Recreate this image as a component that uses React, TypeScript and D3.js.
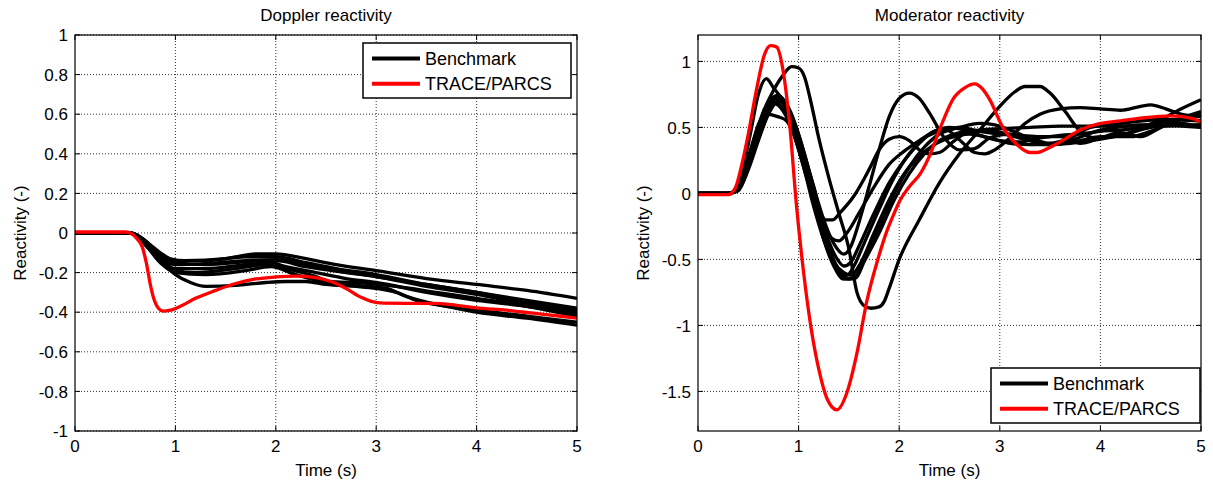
import React from "react";
import * as d3 from "d3";

type P = [number, number];

// ---------- Data ----------
const xTicks = [0, 1, 2, 3, 4, 5];
const dopplerYTicks = [-1, -0.8, -0.6, -0.4, -0.2, 0, 0.2, 0.4, 0.6, 0.8, 1];
const moderatorYTicks = [-1.5, -1, -0.5, 0, 0.5, 1];
const legendLabels = ["Benchmark", "TRACE/PARCS"];

const dopplerBench1: P[] = [[0,0],[0.55,0],[0.65,-0.02],[0.75,-0.06],[0.85,-0.1],[0.95,-0.13],[1.1,-0.14],[1.5,-0.13],[1.8,-0.105],[2.0,-0.105],[2.3,-0.13],[2.6,-0.16],[3.0,-0.19],[3.5,-0.23],[4.0,-0.26],[4.5,-0.29],[5.0,-0.33]];
const dopplerBench2: P[] = [[0,0],[0.55,0],[0.7,-0.04],[0.85,-0.11],[1.0,-0.14],[1.3,-0.14],[1.7,-0.12],[2.0,-0.12],[2.3,-0.15],[2.6,-0.18],[3.0,-0.21],[3.5,-0.26],[4.0,-0.3],[4.5,-0.35],[5.0,-0.39]];
const dopplerBench3: P[] = [[0,0],[0.55,0],[0.7,-0.05],[0.85,-0.13],[1.0,-0.16],[1.3,-0.155],[1.7,-0.14],[2.0,-0.135],[2.3,-0.16],[2.6,-0.19],[3.0,-0.22],[3.5,-0.27],[4.0,-0.31],[4.5,-0.36],[5.0,-0.4]];
const dopplerBench4: P[] = [[0,0],[0.55,0],[0.7,-0.06],[0.85,-0.14],[1.0,-0.18],[1.3,-0.18],[1.7,-0.16],[1.95,-0.15],[2.1,-0.17],[2.4,-0.2],[2.7,-0.23],[3.0,-0.25],[3.5,-0.3],[4.0,-0.34],[4.5,-0.37],[5.0,-0.41]];
const dopplerBench5: P[] = [[0,0],[0.55,0],[0.7,-0.06],[0.85,-0.15],[1.0,-0.2],[1.3,-0.21],[1.7,-0.19],[1.95,-0.17],[2.2,-0.21],[2.5,-0.245],[2.8,-0.25],[3.2,-0.27],[3.6,-0.3],[4.0,-0.33],[4.5,-0.37],[5.0,-0.42]];
const dopplerBench6: P[] = [[0,0],[0.55,0],[0.7,-0.05],[0.85,-0.14],[1.0,-0.21],[1.15,-0.25],[1.3,-0.27],[1.6,-0.265],[1.9,-0.25],[2.1,-0.245],[2.3,-0.245],[2.5,-0.26],[2.8,-0.27],[3.0,-0.28],[3.2,-0.3],[3.4,-0.34],[3.7,-0.37],[4.0,-0.4],[4.5,-0.43],[5.0,-0.465]];
const dopplerBench7: P[] = [[0,0],[0.55,0],[0.75,-0.07],[0.9,-0.15],[1.0,-0.19],[1.2,-0.2],[1.6,-0.18],[1.9,-0.16],[2.1,-0.18],[2.4,-0.22],[2.6,-0.26],[2.8,-0.265],[3.1,-0.28],[3.3,-0.32],[3.6,-0.36],[4.0,-0.39],[4.5,-0.42],[5.0,-0.45]];
const dopplerBench8: P[] = [[0,0],[0.55,0],[0.7,-0.05],[0.85,-0.12],[1.0,-0.15],[1.3,-0.16],[1.9,-0.14],[2.0,-0.14],[2.3,-0.17],[2.7,-0.2],[3.0,-0.22],[3.5,-0.26],[4.0,-0.3],[4.5,-0.34],[5.0,-0.38]];
const dopplerTrace: P[] = [[0,0.005],[0.5,0.005],[0.55,0],[0.62,-0.03],[0.67,-0.07],[0.71,-0.15],[0.75,-0.26],[0.79,-0.34],[0.83,-0.38],[0.88,-0.395],[0.95,-0.39],[1.05,-0.37],[1.2,-0.33],[1.4,-0.29],[1.6,-0.255],[1.8,-0.232],[2.0,-0.222],[2.2,-0.218],[2.4,-0.225],[2.55,-0.245],[2.7,-0.28],[2.85,-0.325],[2.95,-0.345],[3.07,-0.354],[3.3,-0.355],[3.57,-0.355],[3.8,-0.365],[4.0,-0.378],[4.3,-0.39],[4.56,-0.405],[4.8,-0.418],[5,-0.43]];

const modBench1: P[] = [[0,0],[0.3,0],[0.38,0.03],[0.45,0.15],[0.55,0.4],[0.65,0.62],[0.75,0.78],[0.85,0.9],[0.93,0.96],[1.0,0.95],[1.06,0.88],[1.12,0.7],[1.2,0.42],[1.3,0.12],[1.4,-0.15],[1.5,-0.42],[1.58,-0.75],[1.65,-0.85],[1.72,-0.87],[1.8,-0.86],[1.85,-0.82],[1.9,-0.72],[2.0,-0.5],[2.2,-0.2],[2.4,0.08],[2.6,0.3],[2.8,0.48],[3.0,0.66],[3.15,0.77],[3.25,0.81],[3.4,0.81],[3.5,0.76],[3.65,0.62],[3.8,0.47],[3.95,0.42],[4.2,0.44],[4.5,0.52],[4.8,0.56],[5,0.55]];
const modBench2: P[] = [[0,0],[0.3,0],[0.38,0.03],[0.45,0.2],[0.52,0.45],[0.6,0.75],[0.68,0.87],[0.75,0.8],[0.85,0.7],[0.95,0.55],[1.05,0.32],[1.15,0.05],[1.25,-0.2],[1.35,-0.38],[1.45,-0.46],[1.52,-0.4],[1.6,-0.22],[1.7,0.05],[1.8,0.33],[1.9,0.58],[2.0,0.72],[2.1,0.76],[2.2,0.72],[2.3,0.61],[2.45,0.42],[2.6,0.33],[2.75,0.34],[2.9,0.42],[3.1,0.45],[3.3,0.4],[3.5,0.37],[3.7,0.4],[4.0,0.48],[4.5,0.52],[5,0.5]];
const modBench3: P[] = [[0,0],[0.3,0],[0.4,0.04],[0.5,0.25],[0.6,0.5],[0.7,0.68],[0.78,0.74],[0.85,0.7],[0.95,0.55],[1.05,0.3],[1.15,0.05],[1.22,-0.15],[1.27,-0.2],[1.34,-0.2],[1.42,-0.14],[1.55,-0.02],[1.7,0.18],[1.8,0.33],[1.9,0.41],[2.0,0.43],[2.1,0.4],[2.2,0.33],[2.3,0.3],[2.4,0.31],[2.55,0.4],[2.7,0.47],[2.9,0.48],[3.1,0.44],[3.3,0.4],[3.5,0.37],[3.8,0.4],[4.0,0.43],[4.3,0.43],[4.5,0.47],[4.8,0.57],[5,0.62]];
const modBench4: P[] = [[0,0],[0.3,0],[0.4,0.03],[0.5,0.2],[0.6,0.45],[0.7,0.66],[0.76,0.72],[0.85,0.68],[0.95,0.5],[1.05,0.25],[1.15,-0.05],[1.25,-0.35],[1.35,-0.55],[1.45,-0.65],[1.55,-0.64],[1.65,-0.5],[1.8,-0.25],[1.95,0],[2.1,0.2],[2.25,0.35],[2.4,0.45],[2.6,0.5],[2.8,0.53],[2.95,0.52],[3.1,0.48],[3.3,0.42],[3.5,0.38],[3.7,0.42],[3.9,0.5],[4.2,0.53],[4.6,0.56],[5,0.55]];
const modBench5: P[] = [[0,0],[0.3,0],[0.4,0.03],[0.5,0.25],[0.6,0.52],[0.68,0.6],[0.8,0.58],[0.88,0.55],[0.95,0.45],[1.05,0.2],[1.15,-0.1],[1.25,-0.35],[1.35,-0.52],[1.45,-0.6],[1.52,-0.62],[1.6,-0.55],[1.75,-0.3],[1.9,-0.05],[2.05,0.15],[2.2,0.28],[2.35,0.37],[2.5,0.42],[2.7,0.45],[2.9,0.42],[3.1,0.38],[3.3,0.37],[3.5,0.37],[3.7,0.38],[3.9,0.4],[4.2,0.44],[4.5,0.5],[4.8,0.53],[5,0.5]];
const modBench6: P[] = [[0,0],[0.3,0],[0.4,0.02],[0.5,0.18],[0.6,0.4],[0.7,0.6],[0.8,0.7],[0.88,0.66],[0.97,0.5],[1.07,0.25],[1.17,-0.05],[1.27,-0.3],[1.37,-0.48],[1.45,-0.55],[1.52,-0.52],[1.6,-0.4],[1.75,-0.15],[1.9,0.08],[2.05,0.25],[2.2,0.38],[2.35,0.47],[2.45,0.49],[2.55,0.44],[2.65,0.37],[2.75,0.31],[2.85,0.3],[2.95,0.33],[3.1,0.42],[3.25,0.53],[3.4,0.6],[3.6,0.64],[3.8,0.65],[4.0,0.64],[4.2,0.63],[4.4,0.66],[4.5,0.67],[4.65,0.64],[4.8,0.6],[5,0.58]];
const modBench7: P[] = [[0,0],[0.3,0],[0.4,0.03],[0.5,0.22],[0.6,0.48],[0.7,0.68],[0.8,0.74],[0.9,0.65],[1.0,0.45],[1.1,0.18],[1.2,-0.12],[1.3,-0.4],[1.4,-0.58],[1.5,-0.65],[1.57,-0.64],[1.65,-0.52],[1.8,-0.3],[1.95,-0.05],[2.1,0.15],[2.25,0.3],[2.4,0.4],[2.6,0.46],[2.8,0.48],[3.0,0.49],[3.3,0.5],[3.6,0.51],[4.0,0.51],[4.5,0.51],[5,0.52]];
const modBench8: P[] = [[0,0],[0.3,0],[0.4,0.03],[0.5,0.2],[0.6,0.45],[0.7,0.64],[0.76,0.68],[0.85,0.62],[0.95,0.45],[1.05,0.2],[1.15,-0.05],[1.25,-0.25],[1.33,-0.34],[1.4,-0.36],[1.48,-0.3],[1.6,-0.15],[1.75,0.05],[1.9,0.22],[2.05,0.32],[2.2,0.4],[2.35,0.47],[2.5,0.5],[2.65,0.48],[2.8,0.44],[3.0,0.4],[3.2,0.39],[3.4,0.42],[3.6,0.44],[3.8,0.45],[4.0,0.47],[4.2,0.48],[4.4,0.5],[4.6,0.56],[4.8,0.64],[5,0.71]];
const modBench9: P[] = [[0,0],[0.3,0],[0.4,0.04],[0.5,0.25],[0.6,0.5],[0.72,0.7],[0.8,0.68],[0.9,0.58],[1.0,0.38],[1.1,0.1],[1.2,-0.2],[1.3,-0.45],[1.4,-0.6],[1.48,-0.62],[1.55,-0.55],[1.65,-0.38],[1.8,-0.12],[1.95,0.12],[2.1,0.3],[2.25,0.42],[2.4,0.47],[2.6,0.5],[2.8,0.47],[3.0,0.45],[3.2,0.44],[3.4,0.43],[3.6,0.43],[3.8,0.38],[4.0,0.42],[4.2,0.46],[4.4,0.43],[4.6,0.5],[4.8,0.56],[5,0.6]];
const modTrace: P[] = [[0,-0.01],[0.3,-0.01],[0.37,0.04],[0.43,0.2],[0.5,0.45],[0.58,0.78],[0.66,1.05],[0.72,1.12],[0.78,1.11],[0.85,0.91],[0.91,0.53],[0.98,-0.1],[1.05,-0.6],[1.12,-1.0],[1.2,-1.33],[1.28,-1.55],[1.38,-1.64],[1.48,-1.51],[1.58,-1.21],[1.68,-0.81],[1.78,-0.52],[1.88,-0.28],[1.95,-0.15],[2.01,-0.05],[2.1,0.05],[2.21,0.15],[2.31,0.3],[2.41,0.5],[2.54,0.72],[2.65,0.8],[2.75,0.83],[2.83,0.79],[2.9,0.71],[3.03,0.5],[3.17,0.37],[3.3,0.31],[3.37,0.31],[3.5,0.35],[3.6,0.39],[3.8,0.48],[4.0,0.53],[4.2,0.55],[4.4,0.57],[4.7,0.587],[4.9,0.57],[5,0.54]];

const dopplerBench = [dopplerBench1, dopplerBench2, dopplerBench3, dopplerBench4, dopplerBench5, dopplerBench6, dopplerBench7, dopplerBench8];
const modBench = [modBench1, modBench2, modBench3, modBench4, modBench5, modBench6, modBench7, modBench8, modBench9];

const FONT = "'Liberation Sans', Arial, Helvetica, sans-serif";
const FS = 17;
const LFS = 18;

interface PanelProps {
  id: string;
  left: number;
  right: number;
  top: number;
  bottom: number;
  yDomain: [number, number];
  yTicks: number[];
  title: string;
  bench: P[][];
  trace: P[];
  legend: { x0: number; x1: number; y0: number; y1: number };
  yLabelX: number;
}

function Panel(p: PanelProps) {
  const x = d3.scaleLinear().domain([0, 5]).range([p.left, p.right]);
  const y = d3.scaleLinear().domain(p.yDomain).range([p.bottom, p.top]);
  const line = d3
    .line<P>()
    .x((d) => x(d[0]))
    .y((d) => y(d[1]))
    .curve(d3.curveMonotoneX);
  const cx = (p.left + p.right) / 2;
  const cy = (p.top + p.bottom) / 2;
  const tl = 5;
  const lg = p.legend;
  const row1 = lg.y0 + (lg.y1 - lg.y0) * 0.28;
  const row2 = lg.y0 + (lg.y1 - lg.y0) * 0.74;
  return (
    <g>
      <defs>
        <clipPath id={"clip-" + p.id}>
          <rect x={p.left} y={p.top} width={p.right - p.left} height={p.bottom - p.top} />
        </clipPath>
      </defs>
      <rect x={p.left} y={p.top} width={p.right - p.left} height={p.bottom - p.top} fill="#fff" />
      {xTicks.slice(1, -1).map((t) => (
        <line key={"gx" + t} x1={x(t)} x2={x(t)} y1={p.top} y2={p.bottom} stroke="#333" strokeWidth={1} strokeDasharray="1 2" />
      ))}
      {p.yTicks.map((t) => (
        <line key={"gy" + t} x1={p.left} x2={p.right} y1={y(t)} y2={y(t)} stroke="#333" strokeWidth={1} strokeDasharray="1 2" />
      ))}
      {xTicks.map((t) => (
        <g key={"tx" + t}>
          <line x1={x(t)} x2={x(t)} y1={p.bottom} y2={p.bottom - tl} stroke="#000" />
          <line x1={x(t)} x2={x(t)} y1={p.top} y2={p.top + tl} stroke="#000" />
          <text x={x(t)} y={p.bottom + 21} textAnchor="middle" fontSize={FS} fontFamily={FONT}>
            {t}
          </text>
        </g>
      ))}
      {p.yTicks.map((t) => (
        <g key={"ty" + t}>
          <line x1={p.left} x2={p.left + tl} y1={y(t)} y2={y(t)} stroke="#000" />
          <line x1={p.right} x2={p.right - tl} y1={y(t)} y2={y(t)} stroke="#000" />
          <text x={p.left - 7} y={y(t)} dy="0.36em" textAnchor="end" fontSize={FS} fontFamily={FONT}>
            {d3.format("~g")(t).replace("−", "-")}
          </text>
        </g>
      ))}
      <g clipPath={`url(#clip-${p.id})`}>
        {p.bench.map((s, i) => (
          <path key={"b" + i} d={line(s) || ""} fill="none" stroke="#000" strokeWidth={3.3} strokeLinejoin="round" />
        ))}
        <path d={line(p.trace) || ""} fill="none" stroke="#ff0000" strokeWidth={3.3} strokeLinejoin="round" />
      </g>
      <rect x={p.left} y={p.top} width={p.right - p.left} height={p.bottom - p.top} fill="none" stroke="#000" strokeWidth={1.2} />
      <text x={cx} y={21} textAnchor="middle" fontSize={FS} fontFamily={FONT}>
        {p.title}
      </text>
      <text x={cx} y={p.bottom + 45} textAnchor="middle" fontSize={FS} fontFamily={FONT}>
        Time (s)
      </text>
      <text transform={`translate(${p.yLabelX},${cy}) rotate(-90)`} textAnchor="middle" fontSize={FS} fontFamily={FONT}>
        Reactivity (-)
      </text>
      <rect x={lg.x0} y={lg.y0} width={lg.x1 - lg.x0} height={lg.y1 - lg.y0} fill="#fff" stroke="#000" strokeWidth={1.5} />
      <line x1={lg.x0 + 9} x2={lg.x0 + 57} y1={row1} y2={row1} stroke="#000" strokeWidth={4} />
      <line x1={lg.x0 + 9} x2={lg.x0 + 57} y1={row2} y2={row2} stroke="#ff0000" strokeWidth={4} />
      <text x={lg.x0 + 62} y={row1} dy="0.36em" fontSize={LFS} fontFamily={FONT}>
        {legendLabels[0]}
      </text>
      <text x={lg.x0 + 62} y={row2} dy="0.36em" fontSize={LFS} fontFamily={FONT}>
        {legendLabels[1]}
      </text>
    </g>
  );
}

export default function App() {
  return (
    <svg width={1213} height={486} style={{ position: "absolute", left: 0, top: 0, background: "#fff" }}>
      <rect width={1213} height={486} fill="#fff" />
      <Panel
        id="dop"
        left={75}
        right={577}
        top={35}
        bottom={431}
        yDomain={[-1, 1]}
        yTicks={dopplerYTicks}
        title="Doppler reactivity"
        bench={dopplerBench}
        trace={dopplerTrace}
        legend={{ x0: 363, x1: 571, y0: 43, y1: 98 }}
        yLabelX={26}
      />
      <Panel
        id="mod"
        left={698}
        right={1201}
        top={35}
        bottom={431}
        yDomain={[-1.8, 1.2]}
        yTicks={moderatorYTicks}
        title="Moderator reactivity"
        bench={modBench}
        trace={modTrace}
        legend={{ x0: 991, x1: 1200, y0: 368, y1: 423 }}
        yLabelX={649}
      />
    </svg>
  );
}
